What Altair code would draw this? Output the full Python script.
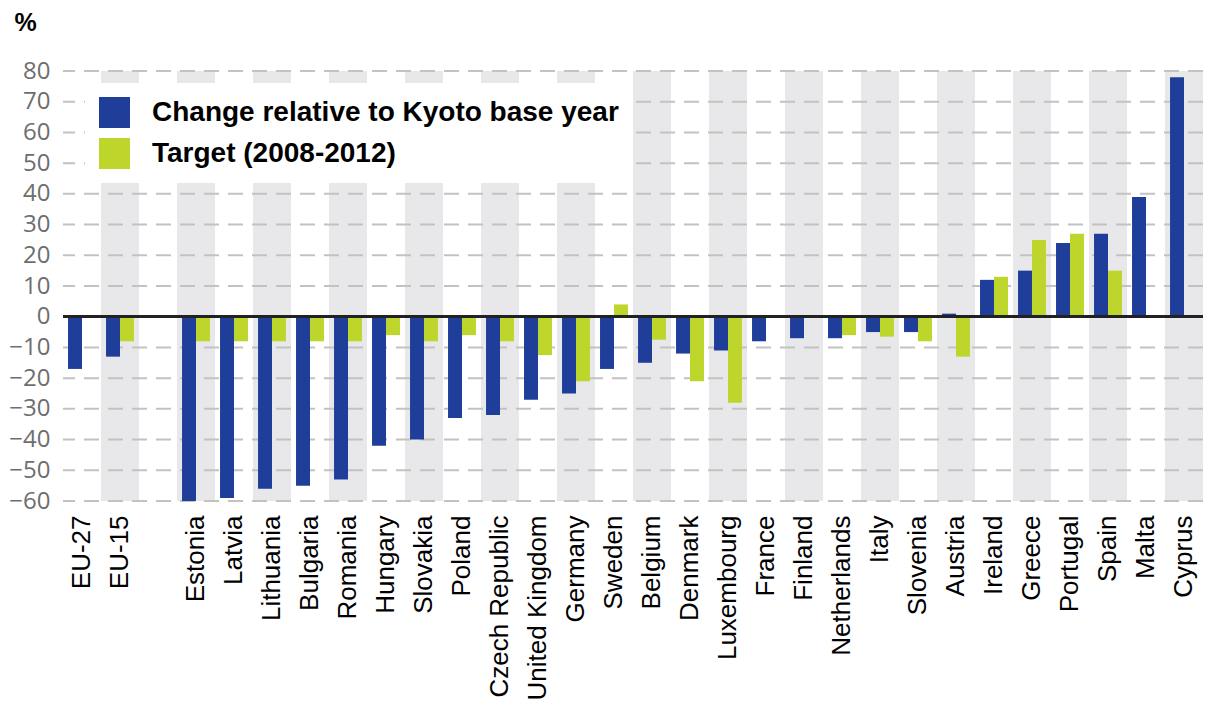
import altair as alt
import pandas as pd

# Slots along the x axis; the blank slot separates the EU aggregates from the countries
categories = [
    "EU-27", "EU-15", " ",
    "Estonia", "Latvia", "Lithuania", "Bulgaria", "Romania", "Hungary",
    "Slovakia", "Poland", "Czech Republic", "United Kingdom", "Germany",
    "Sweden", "Belgium", "Denmark", "Luxembourg", "France", "Finland",
    "Netherlands", "Italy", "Slovenia", "Austria", "Ireland", "Greece",
    "Portugal", "Spain", "Malta", "Cyprus",
]

# Emission change relative to the Kyoto base year (%)
change = [
    -17, -13, None,
    -60, -59, -56, -55, -53, -42,
    -40, -33, -32, -27, -25,
    -17, -15, -12, -11, -8, -7,
    -7, -5, -5, 1, 12, 15,
    24, 27, 39, 78,
]

# Kyoto / burden-sharing target for 2008-2012 (%)
target = [
    None, -8, None,
    -8, -8, -8, -8, -8, -6,
    -8, -6, -8, -12.5, -21,
    4, -7.5, -21, -28, 0, 0,
    -6, -6.5, -8, -13, 13, 25,
    27, 15, None, None,
]

series = ["Change relative to Kyoto base year", "Target (2008-2012)"]
colors = ["#1f3e9a", "#bed62c"]
y_ticks = list(range(-60, 90, 10))

rows = []
for cat, c, t in zip(categories, change, target):
    if c is not None:
        rows.append({"country": cat, "series": series[0], "value": c})
    if t is not None:
        rows.append({"country": cat, "series": series[1], "value": t})
bars_df = pd.DataFrame(rows)

# Alternate slots get a light grey background band
bands_df = pd.DataFrame({"country": categories[1::2]})
grid_df = pd.DataFrame({"v": y_ticks})

x_scale = alt.Scale(domain=categories, paddingInner=0, paddingOuter=0)
y_scale = alt.Scale(domain=[-60, 80], nice=False)

x_axis = alt.Axis(
    title=None, labelAngle=-90, labelAlign="right", labelBaseline="middle",
    labelFont="Liberation Sans", labelFontSize=26, labelColor="#000000",
    labelPadding=14, ticks=False, domain=False, grid=False, labelLimit=0,
)
y_axis = alt.Axis(
    values=y_ticks, grid=False, ticks=False, domain=False,
    labelFont="Open Sans", labelFontSize=24, labelColor="#6e6e6e",
    labelPadding=13,
    title="%", titleAngle=0, titleAlign="left", titleBaseline="alphabetic",
    titleX=-49, titleY=-41, titleFont="Liberation Sans", titleFontSize=25,
    titleFontWeight="bold", titleColor="#000000",
)

bands = alt.Chart(bands_df).mark_rect(color="#e8e8ea").encode(
    x=alt.X("country:N", scale=x_scale, sort=categories, axis=x_axis),
    y=alt.datum(80, scale=y_scale, axis=y_axis),
    y2=alt.datum(-60),
)

grid = alt.Chart(grid_df).mark_rule(
    color="#c2c2c2", strokeWidth=2, strokeDash=[15, 9]
).encode(y=alt.Y("v:Q", scale=y_scale, axis=y_axis))

bars = alt.Chart(bars_df).mark_bar().encode(
    x=alt.X("country:N", scale=x_scale, sort=categories, axis=x_axis),
    xOffset=alt.XOffset(
        "series:N", sort=series,
        scale=alt.Scale(domain=series, paddingInner=0, paddingOuter=0.36),
    ),
    y=alt.Y("value:Q", scale=y_scale, axis=y_axis),
    color=alt.Color(
        "series:N",
        scale=alt.Scale(domain=series, range=colors),
        legend=alt.Legend(
            title=None, orient="none", legendX=22, legendY=12,
            fillColor="#ffffff", padding=14, zindex=1,
            symbolType="square", symbolSize=961, symbolStrokeWidth=0,
            symbolOpacity=1, rowPadding=10, labelOffset=22,
            labelFont="Liberation Sans", labelFontSize=28,
            labelFontWeight="bold", labelColor="#000000", labelLimit=0,
        ),
    ),
)

zero = alt.Chart(grid_df).mark_rule(color="#222222", strokeWidth=2).encode(
    y=alt.datum(0, scale=y_scale, axis=y_axis)
)

chart = alt.layer(bands, grid, bars, zero).properties(
    width=1140,
    height=430,
    padding={"left": 63, "top": 71, "right": 4, "bottom": 202},
    autosize=alt.AutoSizeParams(type="none"),
).configure_view(stroke=None)

chart.save("out.html", embed_options={"renderer": "svg", "actions": False})
